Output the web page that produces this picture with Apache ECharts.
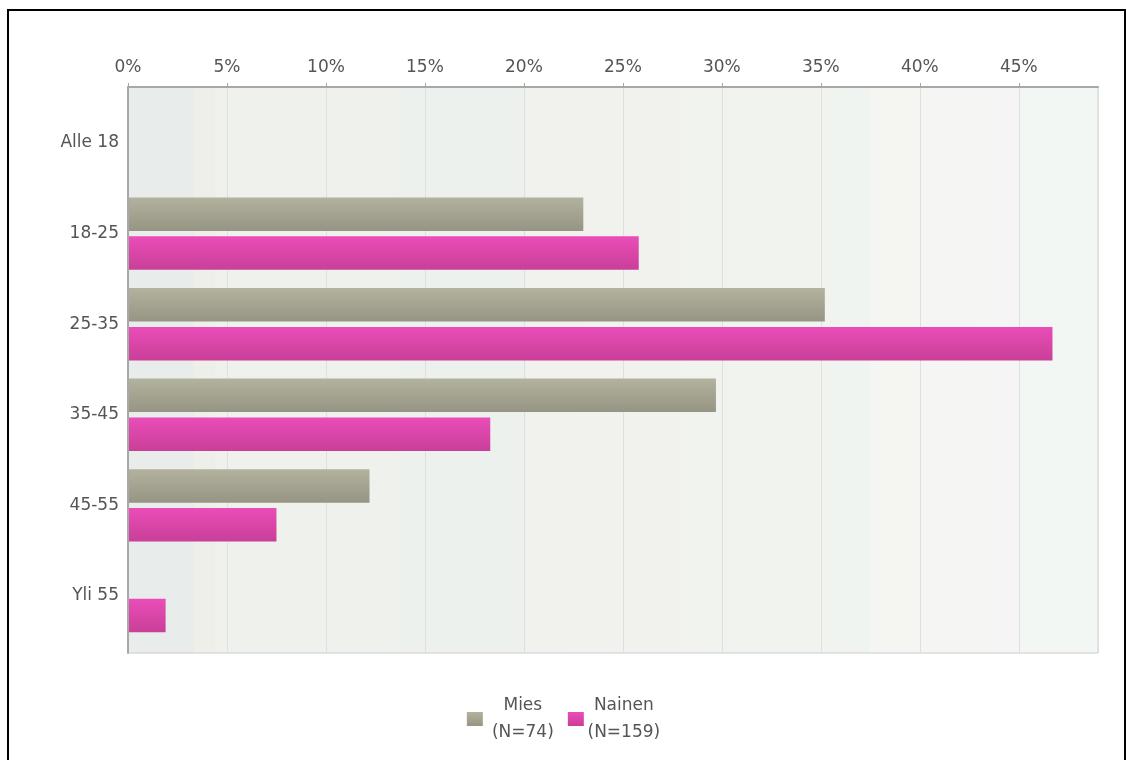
<!DOCTYPE html>
<html>
<head>
<meta charset="utf-8">
<script src="https://cdn.jsdelivr.net/npm/echarts@6/dist/echarts.min.js"></script>
<style>
  html, body { margin: 0; padding: 0; background: #fff; overflow: hidden; }
  #frame { position: absolute; left: 7px; top: 9px; width: 1119px; height: 800px; box-sizing: border-box; border: 2px solid #000; }
  #chart { position: absolute; left: 0; top: 0; width: 1127px; height: 760px; }
</style>
</head>
<body>
<div id="frame"></div>
<div id="chart"></div>
<script>
// ---- data ----
const categories = ['Alle 18', '18-25', '25-35', '35-45', '45-55', 'Yli 55'];
const seriesNames = ['Mies', 'Nainen'];
const seriesN = [74, 159];
const miesValues = [0, 23.0, 35.2, 29.7, 12.2, 0];
const nainenValues = [0, 25.8, 46.7, 18.3, 7.5, 1.9];
const xMin = 0, xMax = 49, xStep = 5;

const FONT = '"DejaVu Sans", Verdana, sans-serif';
const TXT = '#555555';
const FS = 17;

const chart = echarts.init(document.getElementById('chart'), null, { renderer: 'canvas' });

const bg = new echarts.graphic.LinearGradient(0, 0, 1, 0, [
  { offset: 0, color: '#e8ecea' }, { offset: 0.068, color: '#e8ecea' },
  { offset: 0.068, color: '#efefea' }, { offset: 0.09, color: '#efefea' },
  { offset: 0.09, color: '#eef1ec' }, { offset: 0.28, color: '#eef1ec' },
  { offset: 0.28, color: '#edf1ee' }, { offset: 0.41, color: '#edf1ee' },
  { offset: 0.41, color: '#f1f2ed' }, { offset: 0.73, color: '#f1f3ee' },
  { offset: 0.73, color: '#f0f4f0' }, { offset: 0.765, color: '#f0f4f0' },
  { offset: 0.765, color: '#f5f6f1' }, { offset: 0.816, color: '#f5f6f1' },
  { offset: 0.816, color: '#f5f6f3' }, { offset: 0.918, color: '#f5f5f5' },
  { offset: 0.918, color: '#f3f7f3' }, { offset: 1, color: '#f3f7f3' }
]);

const grayGrad = new echarts.graphic.LinearGradient(0, 0, 0, 1, [
  { offset: 0, color: '#b3b29f' }, { offset: 1, color: '#969583' }
]);
const pinkGrad = new echarts.graphic.LinearGradient(0, 0, 0, 1, [
  { offset: 0, color: '#ea4db8' }, { offset: 1, color: '#c93f98' }
]);

const legendRich = {
  t: { align: 'center', width: 70, fontSize: FS, lineHeight: 27, color: TXT, fontFamily: FONT }
};

const option = {
  animation: false,
  textStyle: { fontFamily: FONT },
  grid: [
    { left: 128, right: 29, top: 87, bottom: 107, show: true, backgroundColor: bg, borderColor: '#cccccc', borderWidth: 1, containLabel: false },
    { left: 128, right: 29, top: 97.7, bottom: 118.7, containLabel: false }
  ],
  xAxis: [
    {
      gridIndex: 0, type: 'value', position: 'top', min: xMin, max: xMax, interval: xStep,
      axisLine: { show: true, onZero: false, lineStyle: { color: '#a8a8a8', width: 2 } },
      axisTick: { show: true, length: 4, lineStyle: { color: '#a8a8a8' } },
      axisLabel: { color: TXT, fontSize: FS, fontFamily: FONT, margin: 11, showMaxLabel: false,
                   formatter: v => v + '%' },
      splitLine: { show: true, lineStyle: { color: '#dfe0de', width: 1 } }
    },
    { gridIndex: 1, type: 'value', min: xMin, max: xMax, show: false }
  ],
  yAxis: [
    { gridIndex: 0, type: 'value', min: 0, max: 1, z: 5,
      axisLine: { show: true, onZero: false, lineStyle: { color: '#a8a8a8', width: 2 } },
      axisTick: { show: false }, axisLabel: { show: false }, splitLine: { show: false } },
    { gridIndex: 1, type: 'category', inverse: true, data: categories,
      axisLine: { show: false }, axisTick: { show: false }, splitLine: { show: false },
      axisLabel: { color: TXT, fontSize: FS, fontFamily: FONT, margin: 9, padding: [6, 0, 0, 0] } }
  ],
  legend: {
    left: 'center', top: 697, padding: 0,
    icon: 'rect', itemWidth: 16, itemHeight: 14, itemGap: 10,
    data: seriesNames,
    formatter: name => {
      const n = seriesN[seriesNames.indexOf(name)];
      return '{t|' + name + '}\n{t|(N=' + n + ')}';
    },
    textStyle: { rich: legendRich }
  },
  series: [
    { name: seriesNames[0], type: 'bar', xAxisIndex: 1, yAxisIndex: 1, data: miesValues,
      barWidth: 33.5, barGap: '16%', z: 2,
      itemStyle: { color: grayGrad } },
    { name: seriesNames[1], type: 'bar', xAxisIndex: 1, yAxisIndex: 1, data: nainenValues,
      barWidth: 33.5, barGap: '16%', z: 2,
      itemStyle: { color: pinkGrad } }
  ]
};
chart.setOption(option);
</script>
</body>
</html>
